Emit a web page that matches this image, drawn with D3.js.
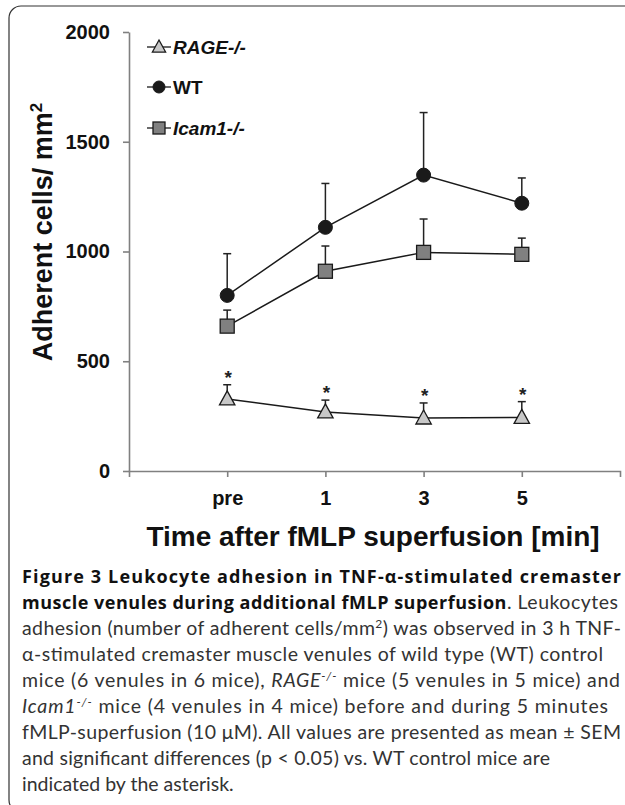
<!DOCTYPE html>
<html>
<head>
<meta charset="utf-8">
<script src="https://cdn.jsdelivr.net/npm/d3@7"></script>
<style>
  body { margin: 0; background: #fff; }
  svg { display: block; }
  .tick text { font-family: "Liberation Sans", Arial, sans-serif; font-weight: bold; font-size: 20px; fill: #111; }
</style>
</head>
<body>
<svg id="chart" width="625" height="805"></svg>
<script>
// x categories (minutes of fMLP superfusion)
const categories = ["pre", "1", "3", "5"];
const yTicks = [0, 500, 1000, 1500, 2000];

// means and upper SEM, adherent cells / mm2
const wtMean = [800, 1110, 1348, 1220];
const wtSem = [190, 200, 285, 115];
const icamMean = [660, 910, 996, 987];
const icamSem = [73, 115, 152, 74];
const rageMean = [328, 269, 241, 244];
const rageSem = [65, 54, 69, 72];
// significant vs WT
const rageStar = [true, true, true, true];

const legendNames = ["RAGE-/-", "WT", "Icam1-/-"];

const svg = d3.select("#chart");

// frame round the whole figure
svg.append("rect")
  .attr("x", 9).attr("y", 6)
  .attr("width", 700).attr("height", 806)
  .attr("rx", 12)
  .attr("fill", "none")
  .attr("stroke", "#333")
  .attr("stroke-width", 1.2);

const x = d3.scalePoint()
  .domain(["", ...categories, " "])
  .range([129, 620]);

const y = d3.scaleLinear()
  .domain([0, 2000])
  .range([471, 32]);

const axisColor = "#808080";

// y axis
const gy = svg.append("g")
  .attr("transform", "translate(129,0)")
  .call(d3.axisLeft(y).tickValues(yTicks).tickFormat(d3.format("d"))
    .tickSize(6).tickSizeOuter(0).tickPadding(13));
gy.select(".domain").attr("stroke", axisColor).attr("stroke-width", 1.6);
gy.selectAll(".tick line").attr("stroke", axisColor).attr("stroke-width", 1.6);

// x axis
const gx = svg.append("g")
  .attr("transform", "translate(0,471)")
  .call(d3.axisBottom(x).tickValues(categories).tickSize(6).tickSizeOuter(6).tickPadding(14));
gx.select(".domain").attr("stroke", axisColor).attr("stroke-width", 1.6);
gx.selectAll(".tick line").attr("stroke", axisColor).attr("stroke-width", 1.6);

// axis titles
svg.append("text")
  .attr("x", 373).attr("y", 546)
  .attr("text-anchor", "middle")
  .style("font-family", "'Liberation Sans', Arial, sans-serif")
  .style("font-weight", "bold")
  .style("font-size", "28px")
  .attr("fill", "#111")
  .text("Time after fMLP superfusion [min]");

const yt = svg.append("text")
  .attr("transform", "translate(52,232) rotate(-90)")
  .attr("text-anchor", "middle")
  .style("font-family", "'Liberation Sans', Arial, sans-serif")
  .style("font-weight", "bold")
  .style("font-size", "27px")
  .attr("fill", "#111");
yt.append("tspan").text("Adherent cells/ mm");
yt.append("tspan").attr("dy", -10).style("font-size", "17px").text("2");

// marker shapes
const triPath = s => `M0,${-s * 0.58}L${s * 0.55},${s * 0.42}L${-s * 0.55},${s * 0.42}Z`;

function drawMarker(g, kind, cx, cy, s) {
  if (kind === "circle") {
    g.append("circle").attr("cx", cx).attr("cy", cy).attr("r", s / 2)
      .attr("fill", "#1a1a1a").attr("stroke", "#1a1a1a");
  } else if (kind === "square") {
    g.append("rect").attr("x", cx - s / 2).attr("y", cy - s / 2)
      .attr("width", s).attr("height", s)
      .attr("fill", "#808080").attr("stroke", "#1a1a1a").attr("stroke-width", 1.3);
  } else {
    g.append("path").attr("d", triPath(s))
      .attr("transform", `translate(${cx},${cy})`)
      .attr("fill", "#c8c8c8").attr("stroke", "#1a1a1a").attr("stroke-width", 1.3);
  }
}

const series = [
  { mean: wtMean, sem: wtSem, kind: "circle", size: 14 },
  { mean: icamMean, sem: icamSem, kind: "square", size: 14 },
  { mean: rageMean, sem: rageSem, kind: "triangle", size: 14 }
];

const line = d3.line()
  .x((d, i) => x(categories[i]))
  .y(d => y(d));

series.forEach(s => {
  const g = svg.append("g");
  // error bars, upper half only
  s.mean.forEach((m, i) => {
    const cx = x(categories[i]);
    g.append("line")
      .attr("x1", cx).attr("x2", cx)
      .attr("y1", y(m)).attr("y2", y(m + s.sem[i]))
      .attr("stroke", "#222").attr("stroke-width", 1.5);
    g.append("line")
      .attr("x1", cx - 4).attr("x2", cx + 4)
      .attr("y1", y(m + s.sem[i])).attr("y2", y(m + s.sem[i]))
      .attr("stroke", "#222").attr("stroke-width", 1.5);
  });
  g.append("path")
    .datum(s.mean)
    .attr("d", line)
    .attr("fill", "none")
    .attr("stroke", "#1a1a1a")
    .attr("stroke-width", 1.5);
  s.mean.forEach((m, i) => drawMarker(g, s.kind, x(categories[i]), y(m), s.size));
});

// asterisks over RAGE-/-
svg.append("g").selectAll("text")
  .data(rageMean)
  .join("text")
  .filter((d, i) => rageStar[i])
  .attr("x", (d, i) => x(categories[i]) + 1)
  .attr("y", (d, i) => y(d + rageSem[i]) - 1)
  .attr("text-anchor", "middle")
  .style("font-family", "'Liberation Sans', Arial, sans-serif")
  .style("font-weight", "bold")
  .style("font-size", "19px")
  .attr("fill", "#222")
  .text("*");

// legend
const legKinds = ["triangle", "circle", "square"];
const legRows = [47, 87, 128];
legendNames.forEach((name, i) => {
  const g = svg.append("g");
  g.append("line")
    .attr("x1", 147).attr("x2", 171)
    .attr("y1", legRows[i]).attr("y2", legRows[i])
    .attr("stroke", "#1a1a1a").attr("stroke-width", 1.3);
  drawMarker(g, legKinds[i], 159, legRows[i], 12);
  g.append("text")
    .attr("x", 173).attr("y", legRows[i] + 7)
    .style("font-family", "'Liberation Sans', Arial, sans-serif")
    .style("font-weight", "bold")
    .style("font-style", name === "WT" ? "normal" : "italic")
    .style("font-size", "19px")
    .attr("fill", "#111")
    .text(name);
});

// caption, with the width each line takes in the original
const capFont = "Lato, 'Open Sans', sans-serif";
const capLines = [
  [["b", "Figure 3 Leukocyte adhesion in TNF-\u03B1-stimulated cremaster"]],
  [["b", "muscle venules during additional fMLP superfusion"], ["n", ". Leukocytes"]],
  [["n", "adhesion (number of adherent cells/mm"], ["sup", "2"], ["n", ") was observed in 3 h TNF-"]],
  [["n", "\u03B1-stimulated cremaster muscle venules of wild type (WT) control"]],
  [["n", "mice (6 venules in 6 mice), "], ["i", "RAGE"], ["isup", "-/-"], ["n", " mice (5 venules in 5 mice) and"]],
  [["i", "Icam1"], ["isup", "-/-"], ["n", " mice (4 venules in 4 mice) before and during 5 minutes"]],
  [["n", "fMLP-superfusion (10 \u03BCM). All values are presented as mean \u00B1 SEM"]],
  [["n", "and significant differences (p < 0.05) vs. WT control mice are"]],
  [["n", "indicated by the asterisk."]]
];
const capWidths = [599, 596, 599, 581, 598, 586, 599, 528, null];
const cap = svg.append("g");
capLines.forEach((parts, li) => {
  const t = cap.append("text")
    .attr("x", 22).attr("y", 583 + li * 26)
    .style("font-family", capFont)
    .style("font-size", "19.5px")
    .attr("fill", "#333");
  if (capWidths[li]) t.attr("textLength", capWidths[li]).attr("lengthAdjust", "spacing");
  parts.forEach(([k, s]) => {
    const sp = t.append("tspan").text(s);
    if (k === "b") sp.style("font-family", "'Open Sans', sans-serif").style("font-size", "18px")
      .style("font-weight", "bold").attr("fill", "#111");
    if (k === "i" || k === "isup") sp.style("font-style", "italic");
    if (k === "sup" || k === "isup") sp.attr("baseline-shift", "super").style("font-size", "12px");
  });
});
</script>
</body>
</html>
